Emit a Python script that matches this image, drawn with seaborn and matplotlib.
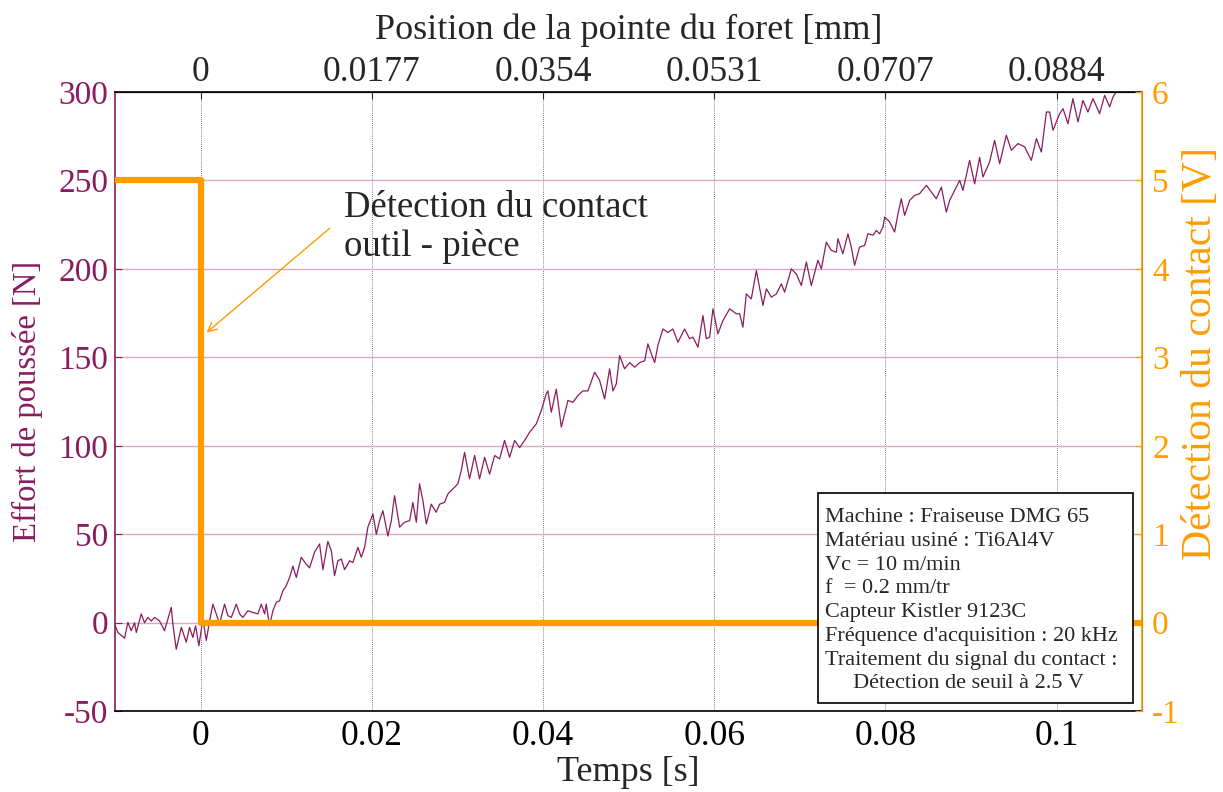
import matplotlib as mpl
mpl.use('Agg')
import numpy as np
import pandas as pd
import seaborn as sns
import matplotlib.pyplot as plt
from matplotlib.patches import Rectangle

sns.set_style("white")
plt.rcParams['font.family'] = ['Liberation Serif', 'DejaVu Serif']
plt.rcParams['axes.unicode_minus'] = False

# force signal (time in ms, force in N)
time_ms = [
    -10.05, -9.66, -8.88, -8.49, -8.10, -7.71, -7.51, -6.93, -6.54, -6.16,
    -5.76, -5.37, -4.79, -4.21, -3.42, -3.24, -2.84, -2.25, -1.67, -1.29,
    -0.90, -0.58, -0.20, 0.27, 0.67, 1.05, 1.44, 1.83, 2.22, 2.80,
    3.19, 3.59, 4.17, 4.56, 4.94, 5.53, 6.11, 6.69, 7.09, 7.48,
    7.67, 8.06, 8.45, 8.84, 9.23, 9.61, 10.01, 10.40, 10.78, 11.18,
    11.76, 12.35, 12.73, 13.32, 13.90, 14.29, 14.87, 15.27, 15.65, 16.04,
    16.44, 16.82, 17.41, 17.79, 18.38, 18.77, 19.16, 19.54, 20.13, 20.53,
    20.91, 21.30, 21.88, 22.28, 22.66, 23.25, 23.83, 24.42, 24.80, 25.20,
    25.58, 25.97, 26.37, 26.95, 27.53, 27.92, 28.50, 28.89, 29.47, 30.06,
    30.45, 30.84, 31.42, 32.01, 32.59, 33.18, 33.76, 34.35, 34.93, 35.51,
    36.10, 36.68, 37.27, 37.85, 38.43, 39.22, 39.80, 40.38, 40.57, 40.97,
    41.55, 42.14, 42.91, 43.49, 44.08, 44.66, 45.24, 46.03, 46.61, 47.20,
    47.78, 48.17, 48.56, 48.95, 49.53, 50.12, 50.70, 51.28, 51.87, 52.25,
    52.65, 53.04, 53.42, 54.01, 54.59, 55.17, 55.76, 56.54, 57.12, 57.51,
    58.10, 58.68, 59.08, 59.46, 59.85, 60.43, 61.02, 61.80, 62.58, 62.97,
    63.35, 63.75, 64.33, 64.92, 65.69, 66.09, 66.67, 67.25, 67.84, 68.22,
    69.01, 69.59, 70.17, 70.76, 71.34, 72.11, 72.51, 73.09, 73.68, 74.26,
    74.45, 75.03, 75.62, 76.01, 76.40, 76.98, 77.57, 77.95, 78.54, 78.93,
    79.32, 79.71, 79.91, 80.49, 81.07, 81.46, 81.85, 82.24, 82.83, 83.41,
    83.99, 84.78, 85.36, 85.94, 86.53, 87.11, 87.50, 88.08, 88.67, 89.05,
    89.83, 90.42, 91.00, 91.39, 92.17, 92.75, 93.34, 94.12, 94.71, 95.48,
    96.26, 97.04, 97.63, 98.21, 98.80, 99.18, 99.57, 100.35, 100.74, 101.32,
    101.90, 102.49, 103.07, 103.65, 104.24, 105.02, 105.60, 106.19, 106.57, 106.97,
]
force = [
    -0.7, -5.5, -8.7, 0.2, -4.5, 0.0, -5.5, 5.0, 0.0, 3.0,
    1.0, 3.0, 1.0, -4.5, 8.7, -0.7, -15.0, -2.6, -11.0, -2.6,
    -8.3, -1.7, -13.0, 2.0, -10.0, 1.0, 10.5, 5.0, -0.7, 10.5,
    4.0, 3.0, 10.5, 5.0, 3.0, 6.8, 5.8, 5.0, 10.5, 5.0,
    10.5, -1.7, 6.8, 11.5, 12.4, 18.0, 21.0, 25.6, 32.0, 25.6,
    37.0, 33.0, 31.0, 40.0, 44.5, 30.0, 46.0, 40.7, 26.6, 35.0,
    36.0, 30.0, 35.0, 34.0, 42.6, 37.0, 42.6, 54.0, 61.5, 50.0,
    57.7, 63.3, 49.0, 57.7, 71.8, 54.0, 56.8, 57.7, 68.0, 56.8,
    78.5, 69.0, 55.8, 67.0, 62.4, 67.0, 68.0, 72.8, 75.6, 78.5,
    86.0, 96.3, 81.3, 94.5, 81.3, 93.5, 84.0, 94.5, 92.6, 103.0,
    93.5, 103.0, 99.0, 103.0, 107.6, 112.4, 120.0, 129.4, 131.0, 119.0,
    132.0, 110.5, 125.6, 124.6, 128.4, 131.0, 131.0, 141.6, 137.0, 126.5,
    143.5, 131.0, 135.0, 151.0, 143.5, 147.0, 144.4, 147.0, 148.0, 157.6,
    152.0, 147.0, 156.7, 166.0, 164.0, 166.0, 158.5, 166.0, 160.5, 161.4,
    155.7, 173.6, 160.5, 161.4, 177.4, 163.3, 170.8, 177.4, 174.6, 174.6,
    167.0, 185.8, 183.0, 199.0, 179.3, 188.7, 184.0, 185.8, 191.5, 186.8,
    200.0, 197.0, 190.6, 203.8, 190.6, 204.8, 200.0, 215.0, 210.4, 209.4,
    217.0, 208.5, 219.8, 212.3, 202.0, 212.3, 213.2, 219.8, 219.0, 221.7,
    219.8, 223.6, 229.3, 226.5, 220.8, 231.0, 239.6, 230.2, 238.7, 241.5,
    242.5, 247.2, 243.4, 239.6, 246.2, 232.0, 238.7, 244.3, 250.0, 244.3,
    261.3, 248.0, 263.0, 251.9, 260.4, 272.6, 259.4, 275.5, 267.0, 270.8,
    268.9, 261.3, 273.6, 266.0, 288.6, 288.6, 278.3, 287.7, 290.5, 282.0,
    296.2, 283.0, 295.2, 288.6, 296.2, 287.7, 298.0, 291.5, 297.0, 300.0,
]

# contact detection signal (V)
contact_t = [-0.01, 0.0, 0.11]
contact_v = [5.0, 0.0, 0.0]

time_ticks = [0, 0.02, 0.04, 0.06, 0.08, 0.1]
time_labels = ['0', '0.02', '0.04', '0.06', '0.08', '0.1']
pos_labels = ['0', '0.0177', '0.0354', '0.0531', '0.0707', '0.0884']
force_ticks = [-50, 0, 50, 100, 150, 200, 250, 300]
volt_ticks = [-1, 0, 1, 2, 3, 4, 5, 6]

info_lines = [
    "Machine : Fraiseuse DMG 65",
    "Matériau usiné : Ti6Al4V",
    "Vc = 10 m/min",
    "f  = 0.2 mm/tr",
    "Capteur Kistler 9123C",
    "Fréquence d'acquisition : 20 kHz",
    "Traitement du signal du contact :",
    "     Détection de seuil à 2.5 V",
]

purple = '#8a1c5f'
orange = '#ff9c00'
grid_purple = '#d9a9c6'

df = pd.DataFrame({'t': np.array(time_ms) / 1000.0, 'F': force})
dc = pd.DataFrame({'t': contact_t, 'V': contact_v})

fig = plt.figure(figsize=(12.23, 7.92), dpi=100)
ax = fig.add_axes([0.094, 0.102, 0.840, 0.782])

sns.lineplot(data=df, x='t', y='F', ax=ax, color=purple, linewidth=0.9,
             estimator=None, sort=False)
ax.set_xlim(-0.01, 0.11)
ax.set_ylim(-50, 300)
ax.set_xticks(time_ticks, labels=time_labels)
ax.set_yticks(force_ticks)
for v in time_ticks:
    ax.axvline(v, color='#555555', lw=0.6, ls=(0, (1, 1.5)), zorder=0)
for v in force_ticks:
    ax.axhline(v, color=grid_purple, lw=1.0, zorder=0)

ax.set_xlabel('Temps [s]', fontsize=26)
ax.xaxis.set_label_coords(0.5, -0.072)
ax.set_ylabel('Effort de poussée [N]', fontsize=23.5, color=purple)
ax.yaxis.set_label_coords(-0.07, 0.5)
ax.tick_params(axis='x', direction='in', length=5, labelsize=25.5, colors='black', pad=6)
ax.tick_params(axis='y', direction='in', length=5, labelsize=24, colors=purple, pad=5)
for side in ['bottom', 'top']:
    ax.spines[side].set_color('black')
    ax.spines[side].set_linewidth(1.2)
ax.spines['left'].set_color(purple)
ax.spines['left'].set_linewidth(1.2)

ax2 = ax.twinx()
sns.lineplot(data=dc, x='t', y='V', ax=ax2, color=orange, linewidth=4.5,
             estimator=None, drawstyle='steps-post')
ax2.set_ylim(-1, 6)
ax2.set_yticks(volt_ticks)
ax2.set_ylabel('Détection du contact [V]', fontsize=30, color=orange)
ax2.yaxis.set_label_coords(1.038, 0.578)
ax2.tick_params(axis='y', direction='in', length=5, labelsize=24, colors=orange, pad=7)
ax2.spines['right'].set_color(orange)
ax2.spines['right'].set_linewidth(1.2)
ax2.spines['left'].set_visible(False)
ax2.spines['top'].set_visible(False)
ax2.spines['bottom'].set_visible(False)

top = ax.secondary_xaxis('top')
top.set_xticks(time_ticks, labels=pos_labels)
top.tick_params(direction='in', length=5, labelsize=25.5, pad=2)
top.set_xlabel('Position de la pointe du foret [mm]', fontsize=26, labelpad=12)

# annotation: text and arrow pointing at the falling edge
ax2.text(0.0168, 4.89, 'Détection du contact\noutil - pièce', fontsize=26.5,
         va='top', ha='left', linespacing=1.15)
ax2.annotate('', xy=(0.0007, 3.28), xytext=(0.0151, 4.46),
             arrowprops=dict(arrowstyle='->', color=orange, lw=1.0,
                             shrinkA=0, shrinkB=0, mutation_scale=16))

# info box
ax2.add_patch(Rectangle((0.684, 0.013), 0.307, 0.339, transform=ax.transAxes,
                        fc='white', ec='black', lw=1.2, zorder=9))
ax2.text(0.691, 0.328, "\n".join(info_lines), transform=ax.transAxes,
         fontsize=16, va='top', ha='left', linespacing=1.34, zorder=10)

fig.savefig('out.png', dpi=100)
